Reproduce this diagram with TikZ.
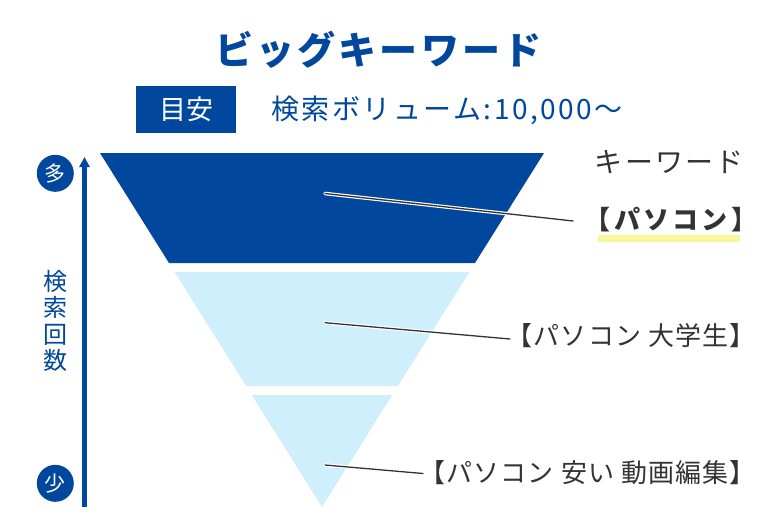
\documentclass[tikz,border=0pt]{standalone}
\usepackage{fontspec}
\setmainfont{Noto Sans CJK JP}
\newfontfamily\jplbl{Noto Sans CJK JP}[LetterSpace=4]
\newfontfamily\jpbold{Noto Sans CJK JP}[LetterSpace=12.7]
\newfontfamily\jpkw{Noto Sans CJK JP}[LetterSpace=8]
\newfontfamily\jptitle{Noto Sans CJK JP}[LetterSpace=8]
\newfontfamily\jpvol{Noto Sans CJK JP}[LetterSpace=9]
\usetikzlibrary{arrows.meta}
\definecolor{navy}{HTML}{00479D}
\definecolor{pale}{HTML}{D0EFFC}
\definecolor{inkgray}{HTML}{333333}
\definecolor{hl}{HTML}{F8F79B}
\tikzset{
  leader/.style={draw=inkgray, line width=1.3, line cap=round},
  halo/.style={draw=white, line width=3.6, line cap=round},
  lbl/.style={text=inkgray, inner sep=0, anchor=east, font=\fontsize{26}{30}\selectfont\jplbl},
  badge/.style={circle, fill=navy, text=white, minimum size=37, inner sep=0, font=\fontsize{21}{21}\selectfont}
}
\begin{document}
\begin{tikzpicture}[x=1pt,y=-1pt]
\useasboundingbox (0,0) rectangle (760,520);
% funnel bands
\fill[navy] (100,153) -- (544,153) -- (475,263) -- (169,263) -- cycle;
\fill[pale] (174.6,272) -- (469.4,272) -- (397.9,386) -- (246.1,386) -- cycle;
\fill[pale] (251.8,395) -- (392.2,395) -- (322,507) -- cycle;
% title
\node[text=navy, inner sep=0, font=\fontsize{38}{40}\selectfont\jptitle\bfseries] (title) at (378.5,50) {ビッグキーワード};
\node[fill=navy, text=white, minimum width=100, minimum height=47, inner sep=0, font=\fontsize{27}{28}\selectfont] (meyasu) at (186,109.5) {目安};
\node[text=navy, anchor=west, inner sep=0, font=\fontsize{28}{30}\selectfont\jpvol] (vol) at (271,110) {検索ボリューム:10,000～};
% axis
\node[badge] (many) at (55.3,173.3) {多};
\node[badge] (few) at (55.3,483.3) {少};
\coordinate (atop) at (84.5,157);
\coordinate (abot) at (84.5,507);
\draw[navy, line width=4.5, -{Triangle[width=10pt,length=10pt]}] (abot) -- (atop);
\node[text=navy, align=center, inner sep=0, font=\fontsize{24}{26.5}\selectfont] (axis) at (55.6,321) {検\\索\\回\\数};
% labels
\node[lbl, font=\fontsize{28}{30}\selectfont\jpkw] (kw) at (744,162) {キーワード};
\fill[hl] (598,235) rectangle (740,241.7);
\node[lbl, font=\fontsize{26}{30}\selectfont\jpbold\bfseries] (l1) at (757.5,220) {【パソコン】};
\node[lbl] (l2) at (755.4,336) {【パソコン\hspace{7pt}大学生】};
\node[lbl] (l3) at (755.4,472.5) {【パソコン\hspace{7pt}安い\hspace{7pt}動画編集】};
% leaders
\coordinate (s1) at (325,193.5);
\coordinate (s2) at (325,322.7);
\coordinate (s3) at (325,465);
\coordinate (e1) at (573,221);
\coordinate (e2) at (510,339);
\coordinate (e3) at (423,473.5);
\foreach \a/\b in {s1/e1,s2/e2,s3/e3}{
  \draw[halo] (\a) -- (\b);
  \draw[leader] (\a) -- (\b);
}
\end{tikzpicture}
\end{document}
